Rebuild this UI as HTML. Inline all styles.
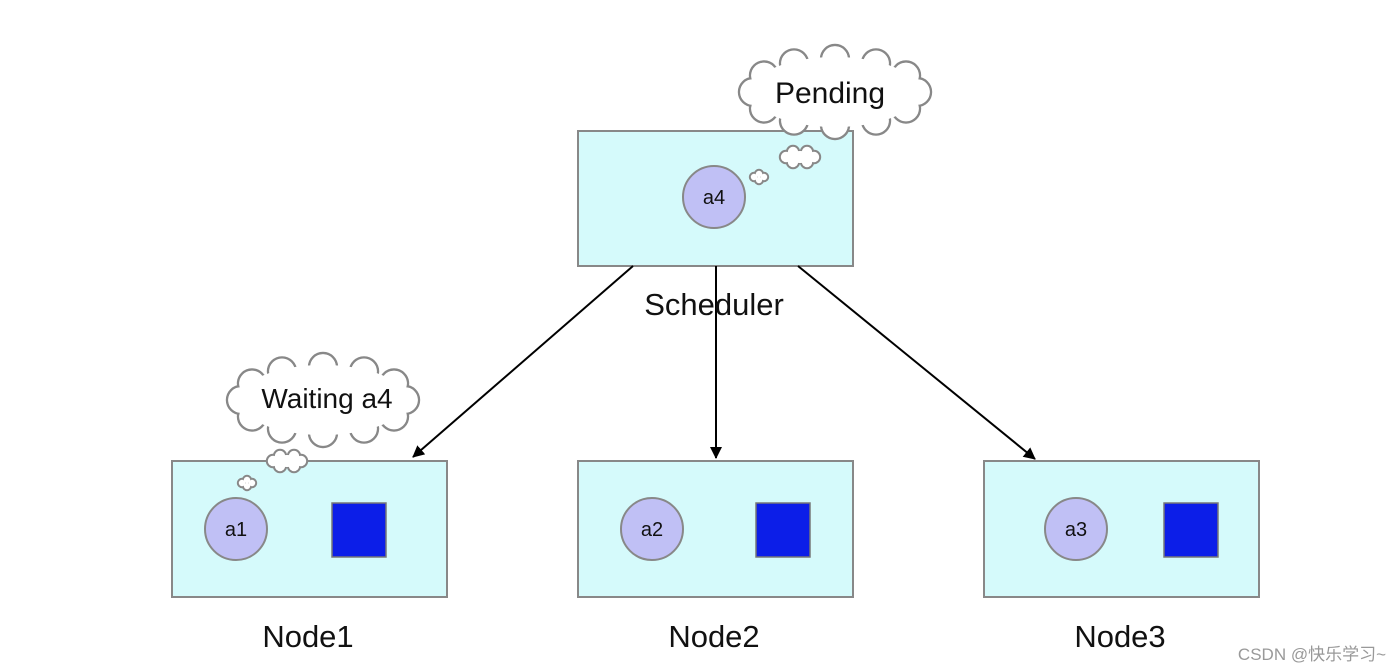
<!DOCTYPE html>
<html><head><meta charset="utf-8"><style>
html,body{margin:0;padding:0;background:#fff;}
svg{display:block;}
text{font-family:"Liberation Sans",Arial,sans-serif;fill:#111;}
</style></head><body>
<svg width="1398" height="672" viewBox="0 0 1398 672" xmlns="http://www.w3.org/2000/svg">
<defs>
<marker id="ah" markerWidth="12" markerHeight="12" refX="11" refY="6" orient="auto" markerUnits="userSpaceOnUse">
<path d="M0,0 L12,6 L0,12 z" fill="#000"/>
</marker>
<g id="bigS">
<circle cx="917" cy="92" r="14"/><circle cx="906" cy="108.5" r="14"/><circle cx="876" cy="120.6" r="14"/>
<circle cx="835" cy="125" r="14"/><circle cx="794" cy="120.6" r="14"/><circle cx="764" cy="108.5" r="14"/>
<circle cx="753" cy="92" r="14"/><circle cx="764" cy="75.5" r="14"/><circle cx="794" cy="63.4" r="14"/>
<circle cx="835" cy="59" r="14"/><circle cx="876" cy="63.4" r="14"/><circle cx="906" cy="75.5" r="14"/>
</g>
<g id="bigF">
<circle cx="917" cy="92" r="12.8"/><circle cx="906" cy="108.5" r="12.8"/><circle cx="876" cy="120.6" r="12.8"/>
<circle cx="835" cy="125" r="12.8"/><circle cx="794" cy="120.6" r="12.8"/><circle cx="764" cy="108.5" r="12.8"/>
<circle cx="753" cy="92" r="12.8"/><circle cx="764" cy="75.5" r="12.8"/><circle cx="794" cy="63.4" r="12.8"/>
<circle cx="835" cy="59" r="12.8"/><circle cx="876" cy="63.4" r="12.8"/><circle cx="906" cy="75.5" r="12.8"/>
<ellipse cx="835" cy="92" rx="84" ry="35"/>
</g>
<g id="smS">
<circle cx="-14" cy="0" r="6"/><circle cx="-7" cy="-5" r="6"/><circle cx="7" cy="-5" r="6"/>
<circle cx="14" cy="0" r="6"/><circle cx="7" cy="5" r="6"/><circle cx="-7" cy="5" r="6"/>
</g>
<g id="smF">
<circle cx="-14" cy="0" r="5.2"/><circle cx="-7" cy="-5" r="5.2"/><circle cx="7" cy="-5" r="5.2"/>
<circle cx="14" cy="0" r="5.2"/><circle cx="7" cy="5" r="5.2"/><circle cx="-7" cy="5" r="5.2"/>
<ellipse cx="0" cy="0" rx="15" ry="6"/>
</g>
<g id="tnS">
<circle cx="-5" cy="0" r="4"/><circle cx="0" cy="-3" r="4"/><circle cx="5" cy="0" r="4"/><circle cx="0" cy="3" r="4"/>
</g>
<g id="tnF">
<circle cx="-5" cy="0" r="3.2"/><circle cx="0" cy="-3" r="3.2"/><circle cx="5" cy="0" r="3.2"/><circle cx="0" cy="3" r="3.2"/>
</g>
</defs>
<!-- boxes -->
<rect x="578" y="131" width="275" height="135" fill="#d5fafb" stroke="#888" stroke-width="2"/>
<rect x="172" y="461" width="275" height="136" fill="#d5fafb" stroke="#888" stroke-width="2"/>
<rect x="578" y="461" width="275" height="136" fill="#d5fafb" stroke="#888" stroke-width="2"/>
<rect x="984" y="461" width="275" height="136" fill="#d5fafb" stroke="#888" stroke-width="2"/>

<!-- clouds -->
<g stroke="#888" stroke-width="2.4" fill="#fff">
<use href="#bigS"/>
<use href="#bigS" transform="translate(-512,308)"/>
<use href="#smS" transform="translate(800,157)"/>
<use href="#smS" transform="translate(287,461)"/>
<use href="#tnS" transform="translate(759,177)"/>
<use href="#tnS" transform="translate(247,483)"/>
</g>
<g fill="#fff" stroke="none">
<use href="#bigF"/>
<use href="#bigF" transform="translate(-512,308)"/>
<use href="#smF" transform="translate(800,157)"/>
<use href="#smF" transform="translate(287,461)"/>
<use href="#tnF" transform="translate(759,177)"/>
<use href="#tnF" transform="translate(247,483)"/>
</g>
<text x="830" y="103" font-size="30" text-anchor="middle">Pending</text>
<text x="327" y="408" font-size="28" text-anchor="middle">Waiting a4</text>

<!-- circles -->
<g fill="#c0c0f5" stroke="#888" stroke-width="2">
<circle cx="714" cy="197" r="31"/>
<circle cx="236" cy="529" r="31"/>
<circle cx="652" cy="529" r="31"/>
<circle cx="1076" cy="529" r="31"/>
</g>
<g font-size="20" text-anchor="middle">
<text x="714" y="204">a4</text>
<text x="236" y="536">a1</text>
<text x="652" y="536">a2</text>
<text x="1076" y="536">a3</text>
</g>
<!-- squares -->
<g fill="#0c1ee8" stroke="#777" stroke-width="1.5">
<rect x="332" y="503" width="54" height="54"/>
<rect x="756" y="503" width="54" height="54"/>
<rect x="1164" y="503" width="54" height="54"/>
</g>
<!-- arrows -->
<g stroke="#000" stroke-width="2" fill="none" marker-end="url(#ah)">
<line x1="633" y1="266" x2="413" y2="457"/>
<line x1="716" y1="266" x2="716" y2="458"/>
<line x1="798" y1="266" x2="1035" y2="459"/>
</g>
<!-- labels -->
<g font-size="31" text-anchor="middle">
<text x="714" y="315">Scheduler</text>
<text x="308" y="647">Node1</text>
<text x="714" y="647">Node2</text>
<text x="1120" y="647">Node3</text>
</g>
<text x="1386" y="660" font-size="17" text-anchor="end" style="fill:#999;font-family:'Liberation Sans','Noto Sans CJK SC',sans-serif">CSDN @快乐学习~</text>
</svg>
</body></html>
